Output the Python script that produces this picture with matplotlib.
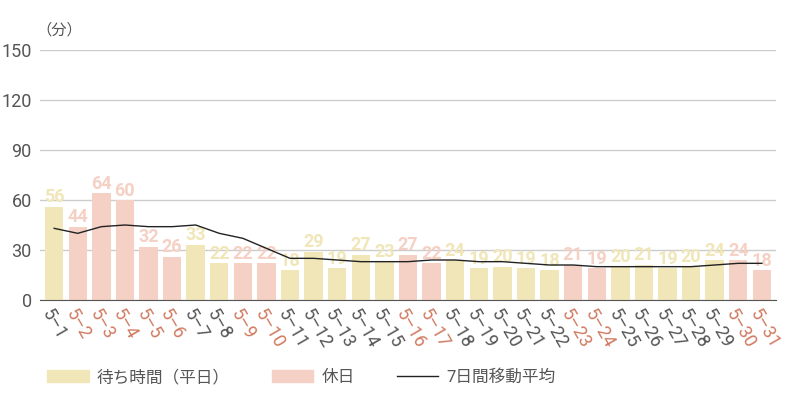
import matplotlib
matplotlib.use('Agg')
import matplotlib.pyplot as plt
import numpy as np
from matplotlib.patches import Patch
from matplotlib.lines import Line2D

plt.rcParams['font.family'] = ['Roboto', 'Noto Sans CJK JP', 'DejaVu Sans']

days = ['5-%d' % i for i in range(1, 32)]
wait = [56, 44, 64, 60, 32, 26, 33, 22, 22, 22, 18, 29, 19, 27, 23, 27, 22, 24,
        19, 20, 19, 18, 21, 19, 20, 21, 19, 20, 24, 24, 18]
holidays = ['5-2', '5-3', '5-4', '5-5', '5-6', '5-9', '5-10', '5-16', '5-17',
            '5-23', '5-24', '5-30', '5-31']
avg7 = [43, 40, 44, 45, 44, 44, 45, 40, 37, 31, 25, 25, 24, 23, 23, 23, 24, 24,
        23, 23, 22, 21, 21, 20, 20, 20, 20, 20, 21, 22, 22]

c_week = '#f0e6b8'
c_hol = '#f5d0c4'
c_holtxt = '#d07a60'

fig, ax = plt.subplots(figsize=(8, 4), dpi=100)
fig.subplots_adjust(left=0.05, right=0.97, top=0.875, bottom=0.25)
x = np.arange(len(days))
cols = [c_hol if d in holidays else c_week for d in days]
ax.bar(x, wait, width=0.78, color=cols, zorder=2)
for i, v in enumerate(wait):
    ax.text(i, v + 0.3, str(v), ha='center', va='bottom', fontsize=13,
            fontweight='bold', color=cols[i], zorder=3)
ax.plot(x, avg7, color='#222222', lw=1, zorder=4)

ax.set_ylim(0, 150)
ax.set_xlim(-0.6, len(days) - 0.4)
ax.set_yticks(range(0, 151, 30))
ax.grid(axis='y', color='#cccccc', lw=1, zorder=0)
for s in ['top', 'right', 'left']:
    ax.spines[s].set_visible(False)
ax.spines['bottom'].set_color('#555555')
ax.tick_params(axis='y', length=0, labelsize=13, colors='#555555', pad=6)
ax.tick_params(axis='x', length=0, labelsize=13, pad=4)
ax.set_xticks(x)
ax.set_xticklabels([d.replace('-', '–') for d in days], rotation=-60,
                   ha='left', rotation_mode='anchor')
for lab, d in zip(ax.get_xticklabels(), days):
    lab.set_color(c_holtxt if d in holidays else '#555555')
fig.text(0.045, 0.905, '（分）', ha='left', va='bottom', fontsize=11,
         color='#555555')

handles = [Patch(color=c_week, label='待ち時間（平日）'),
           Patch(color=c_hol, label='休日'),
           Line2D([], [], color='#222222', lw=1, label='7日間移動平均')]
fig.legend(handles=handles, loc='lower left', bbox_to_anchor=(0.04, 0.0), ncol=3,
           frameon=False, fontsize=12, handlelength=2.5, handletextpad=0.5,
           columnspacing=2.5, labelcolor='#555555')
fig.savefig('out.png')
